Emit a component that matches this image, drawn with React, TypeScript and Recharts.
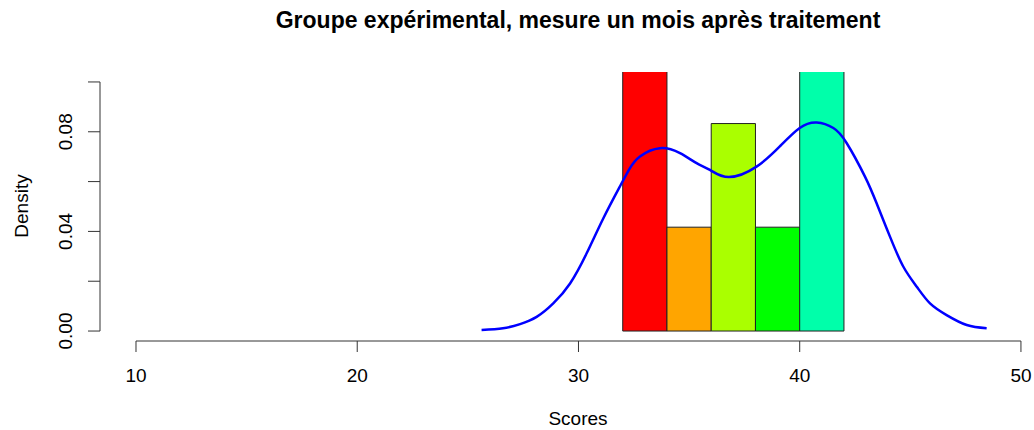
import { ComposedChart, Line, XAxis, YAxis, ReferenceArea, ReferenceLine } from 'recharts';

const FONT = '"Liberation Sans", Arial, sans-serif';

// histogram bins (width 2) and their densities
const binStarts = [32, 34, 36, 38, 40];
const binEnds = [34, 36, 38, 40, 42];
const binDensity = [0.1667, 0.0417, 0.0833, 0.0417, 0.1667];
const binColors = ['#FF0000', '#FFA500', '#AAFF00', '#00FF00', '#00FFAA'];

// kernel density estimate
const curveX = [
  25.62, 26.59, 27.36, 28.11, 28.86, 29.62, 30.37, 31.12, 31.87, 32.32, 32.78, 33.68, 34.59, 35.34, 35.94,
  36.8, 38.05, 39.1, 40.0, 40.77, 41.52, 42.12, 42.95, 43.48, 44.08, 44.68, 45.29, 45.89, 46.64,
  47.55, 48.45,
];
const curveY = [
  0.0004, 0.0011, 0.0028, 0.0057, 0.0111, 0.0191, 0.0312, 0.0452, 0.058, 0.0653, 0.0701, 0.0734, 0.0714,
  0.0674, 0.0647, 0.0618, 0.066, 0.0741, 0.0815, 0.0837, 0.0815, 0.0755, 0.062, 0.0512, 0.0379,
  0.0259, 0.0178, 0.0111, 0.0064, 0.0024, 0.0011,
];

const xTicks = [10, 20, 30, 40, 50];
const yTicks = [0, 0.02, 0.04, 0.06, 0.08, 0.1];
const yLabels = ['0.00', '', '0.04', '', '0.08', ''];

const data = curveX.map((x, i) => ({ x, y: curveY[i] }));

const X_DOMAIN: [number, number] = [8.373, 50.59];
const Y_DOMAIN: [number, number] = [-0.004, 0.104];

function YTick(props: any) {
  const { x, y, index } = props;
  const label = yLabels[index];
  if (!label) return null;
  return (
    <text x={x} y={y} transform={`rotate(-90, ${x}, ${y})`} textAnchor="middle" fontSize={19} fill="#000" fontFamily={FONT}>
      {label}
    </text>
  );
}

export default function App() {
  return (
    <div style={{ position: 'absolute', top: 0, left: 0, width: 1034, height: 430, background: '#fff' }}>
      <ComposedChart width={1034} height={430} data={data} margin={{ top: 72, right: 0, bottom: 0, left: 0 }}>
        <XAxis
          dataKey="x"
          type="number"
          domain={X_DOMAIN}
          allowDataOverflow
          ticks={xTicks}
          interval={0}
          axisLine={false}
          tickSize={11}
          tickMargin={17}
          height={89}
          tickLine={{ stroke: '#333' }}
          tick={{ fontSize: 19, fill: '#000', fontFamily: FONT }}
        />
        <YAxis
          type="number"
          domain={Y_DOMAIN}
          allowDataOverflow
          ticks={yTicks}
          interval={0}
          width={100}
          axisLine={false}
          tickSize={12}
          tickMargin={16}
          tickLine={{ stroke: '#333' }}
          tick={<YTick />}
        />
        {binStarts.map((s, i) => (
          <ReferenceArea
            key={i}
            x1={s}
            x2={binEnds[i]}
            y1={0}
            y2={binDensity[i]}
            fill={binColors[i]}
            fillOpacity={1}
            stroke="#222"
            strokeWidth={1}
            ifOverflow="hidden"
          />
        ))}
        <ReferenceLine segment={[{ x: 10, y: Y_DOMAIN[0] }, { x: 50, y: Y_DOMAIN[0] }]} stroke="#333" ifOverflow="visible" />
        <ReferenceLine segment={[{ x: X_DOMAIN[0], y: 0 }, { x: X_DOMAIN[0], y: 0.1 }]} stroke="#333" ifOverflow="visible" />
        <Line dataKey="y" type="natural" stroke="#0000FF" strokeWidth={2.5} dot={false} isAnimationActive={false} />
      </ComposedChart>
      <svg width={1034} height={430} style={{ position: 'absolute', top: 0, left: 0, pointerEvents: 'none' }}>
        <text x={578} y={28} textAnchor="middle" fontSize={23} fontWeight="bold" fontFamily={FONT} fill="#000">
          Groupe expérimental, mesure un mois après traitement
        </text>
        <text x={578} y={425} textAnchor="middle" fontSize={19} fontFamily={FONT} fill="#000">
          Scores
        </text>
        <text x={28} y={206} transform="rotate(-90, 28, 206)" textAnchor="middle" fontSize={19} fontFamily={FONT} fill="#000">
          Density
        </text>
      </svg>
    </div>
  );
}
